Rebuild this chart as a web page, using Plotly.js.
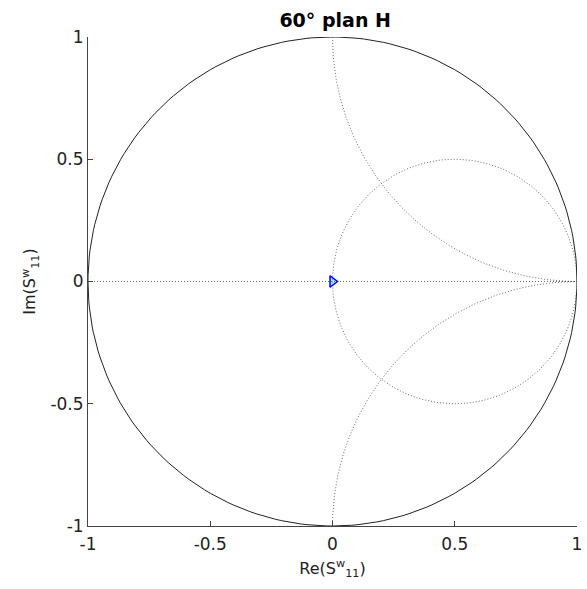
<!DOCTYPE html>
<html><head><meta charset="utf-8">
<script src="https://cdn.plot.ly/plotly-3.0.1.min.js"></script>
<style>html,body{margin:0;padding:0;background:#fff}</style>
</head><body><div id="chart" style="width:587px;height:589px"></div>
<script>
// Smith chart grid: circle/arc definitions (center x, center y, radius, start angle deg, end angle deg)
const gridName   = ['r=0 (unit)', 'r=1', 'x=+1', 'x=-1'];
const gridCx     = [0, 0.5, 1, 1];
const gridCy     = [0, 0, 1, -1];
const gridR      = [1, 0.5, 1, 1];
const gridStart  = [0, 0, 180, 90];
const gridEnd    = [360, 360, 270, 180];
const gridSolid  = [true, false, false, false];
// Real axis line
const axisLineX = [-1, 1];
const axisLineY = [0, 0];
// Data point
const pointRe = [0];
const pointIm = [0];
const tickVals = [-1, -0.5, 0, 0.5, 1];
const tickText = ['-1', '-0.5', '0', '0.5', '1'];

const traces = [];
for (let i = 0; i < gridName.length; i++) {
  const xs = [], ys = [];
  const n = 240;
  for (let k = 0; k <= n; k++) {
    const a = (gridStart[i] + (gridEnd[i] - gridStart[i]) * k / n) * Math.PI / 180;
    xs.push(gridCx[i] + gridR[i] * Math.cos(a));
    ys.push(gridCy[i] + gridR[i] * Math.sin(a));
  }
  traces.push({x: xs, y: ys, mode: 'lines', name: gridName[i], hoverinfo: 'skip',
    line: gridSolid[i] ? {color: '#222', width: 1} : {color: '#444', width: 0.8, dash: '1px,2px'}});
}
traces.push({x: axisLineX, y: axisLineY, mode: 'lines', hoverinfo: 'skip',
  line: {color: '#444', width: 0.8, dash: '1px,2px'}});
traces.push({x: pointRe, y: pointIm, mode: 'markers',
  marker: {symbol: 'triangle-right', size: 10, color: 'rgba(0,170,255,0.3)', line: {color: '#0000ff', width: 1.5}}});

const axisCommon = {
  range: [-1, 1], tickvals: tickVals, ticktext: tickText, ticks: 'inside', ticklen: 5,
  tickcolor: '#444', showline: true, linecolor: '#444', linewidth: 1, zeroline: false,
  showgrid: false, tickfont: {family: 'DejaVu Sans', size: 17, color: '#222'}, mirror: false
};
const layout = {
  width: 587, height: 589,
  margin: {l: 88, r: 10, t: 37, b: 63},
  paper_bgcolor: '#fff', plot_bgcolor: '#fff',
  showlegend: false,
  title: {text: '<b>60° plan H</b>', x: 0.571, xanchor: 'center', y: 0.966, yanchor: 'middle',
    font: {family: 'DejaVu Sans', size: 19, color: '#000'}},
  xaxis: Object.assign({}, axisCommon, {ticklabelstandoff: 3, title: {text: 'Re(S<sup>w</sup><sub>11</sub>)', standoff: 9,
    font: {family: 'DejaVu Sans', size: 16, color: '#222'}}}),
  yaxis: Object.assign({}, axisCommon, {title: {text: 'Im(S<sup>w</sup><sub>11</sub>)', standoff: 10,
    font: {family: 'DejaVu Sans', size: 16, color: '#222'}}})
};
Plotly.newPlot('chart', traces, layout, {displayModeBar: false, staticPlot: true});
</script></body></html>
